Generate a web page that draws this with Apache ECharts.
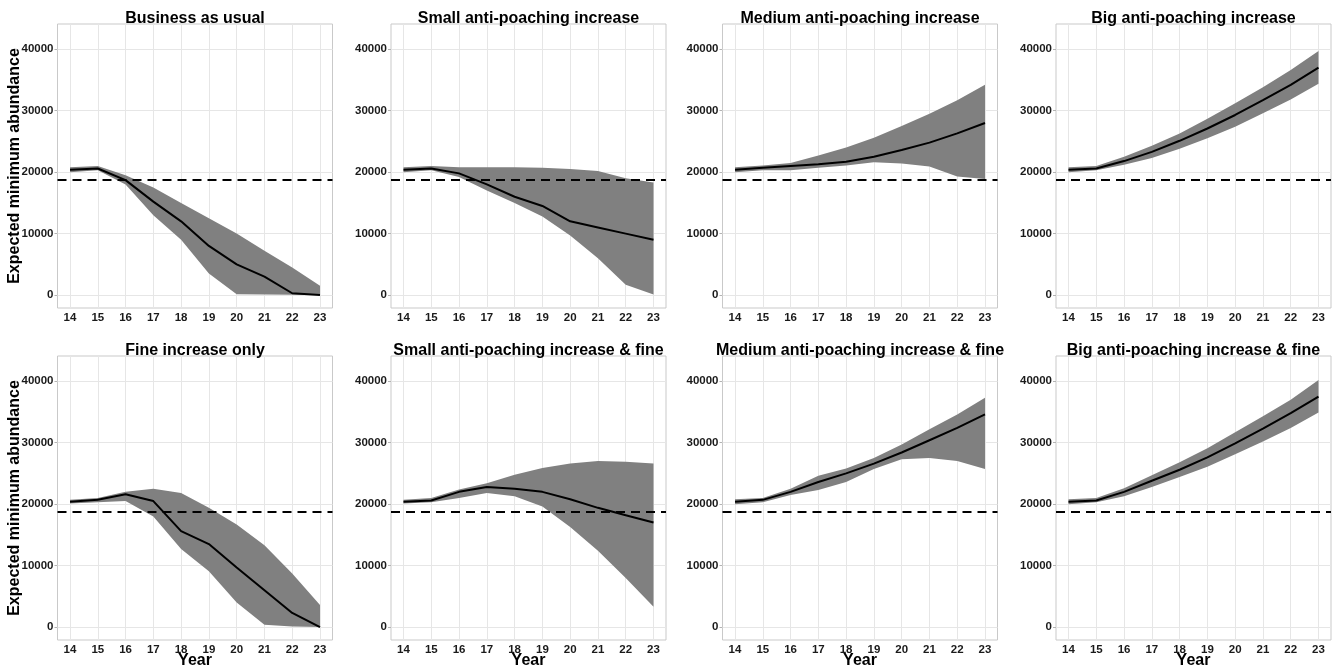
<!DOCTYPE html>
<html>
<head>
<meta charset="utf-8">
<script src="https://cdn.jsdelivr.net/npm/echarts@6/dist/echarts.min.js"></script>
<style>html,body{margin:0;padding:0;background:#fff;}#c{width:1334px;height:667px;}</style>
</head>
<body>
<div id="c"></div>
<script>
// ---- data ----
const years = [14, 15, 16, 17, 18, 19, 20, 21, 22, 23];
const yTicks = [0, 10000, 20000, 30000, 40000];
const threshold = 18800;
const titles = [
  "Business as usual", "Small anti-poaching increase", "Medium anti-poaching increase", "Big anti-poaching increase",
  "Fine increase only", "Small anti-poaching increase & fine", "Medium anti-poaching increase & fine", "Big anti-poaching increase & fine"
];

const bauMed = [20400, 20600, 18700, 15200, 12000, 8000, 5000, 3000, 300, 0];
const bauHi  = [20800, 21000, 19500, 17500, 15000, 12500, 10000, 7200, 4500, 1500];
const bauLo  = [20000, 20300, 18000, 13000, 9000, 3500, 150, 100, 50, 0];

const smallMed = [20400, 20600, 19800, 18000, 16000, 14500, 12000, 11000, 10000, 9000];
const smallHi  = [20800, 21000, 20800, 20800, 20800, 20700, 20500, 20200, 19000, 18300];
const smallLo  = [20000, 20300, 19200, 17000, 15000, 12800, 9700, 6000, 1700, 100];

const medMed = [20400, 20700, 21000, 21300, 21700, 22500, 23600, 24800, 26300, 28000];
const medHi  = [20800, 21100, 21500, 22700, 24000, 25600, 27500, 29500, 31700, 34200];
const medLo  = [20000, 20300, 20300, 20700, 21100, 21600, 21400, 20900, 19300, 18900];

const bigMed = [20400, 20600, 21800, 23300, 25100, 27100, 29300, 31700, 34200, 37000];
const bigHi  = [20800, 21000, 22500, 24300, 26300, 28700, 31200, 33800, 36600, 39700];
const bigLo  = [20000, 20300, 21200, 22300, 23800, 25500, 27400, 29600, 31800, 34400];

const fineMed = [20400, 20700, 21600, 20500, 15600, 13500, 9700, 6000, 2300, 0];
const fineHi  = [20700, 21000, 22000, 22500, 21800, 19400, 16700, 13300, 8700, 3600];
const fineLo  = [20100, 20300, 20500, 18000, 12700, 9100, 4000, 400, 100, 0];

const smallFineMed = [20400, 20600, 22000, 22800, 22500, 22000, 20800, 19400, 18200, 17000];
const smallFineHi  = [20700, 21000, 22400, 23400, 24800, 25900, 26600, 27000, 26900, 26600];
const smallFineLo  = [20100, 20300, 21000, 21800, 21300, 19600, 16300, 12400, 8000, 3300];

const medFineMed = [20400, 20700, 22000, 23600, 25000, 26600, 28400, 30400, 32400, 34600];
const medFineHi  = [20800, 21000, 22500, 24600, 25800, 27500, 29700, 32200, 34600, 37300];
const medFineLo  = [20000, 20300, 21500, 22300, 23600, 25700, 27300, 27500, 27000, 25700];

const bigFineMed = [20400, 20600, 22000, 23800, 25600, 27600, 29900, 32300, 34800, 37500];
const bigFineHi  = [20800, 21000, 22600, 24700, 26800, 29100, 31700, 34300, 37000, 40200];
const bigFineLo  = [20000, 20300, 21300, 22800, 24400, 26100, 28100, 30200, 32400, 34900];

// ---- build ----
const panels = [
  [bauMed, bauLo, bauHi], [smallMed, smallLo, smallHi], [medMed, medLo, medHi], [bigMed, bigLo, bigHi],
  [fineMed, fineLo, fineHi], [smallFineMed, smallFineLo, smallFineHi], [medFineMed, medFineLo, medFineHi], [bigFineMed, bigFineLo, bigFineHi]
];

const FONT = "'Liberation Sans', Arial, sans-serif";
const colLeft = [57.5, 391, 722.5, 1056];
const rowTop = [24, 356];
const W = 275, H = 284;

const grids = [], xAxes = [], yAxes = [], series = [], titleOpts = [];
panels.forEach((p, i) => {
  const r = Math.floor(i / 4), c = i % 4;
  grids.push({
    left: colLeft[c], top: rowTop[r], width: W, height: H,
    outerBoundsMode: 'none', containLabel: false,
    show: true, backgroundColor: '#ffffff', borderColor: '#c9c9c9', borderWidth: 1
  });
  titleOpts.push({
    text: titles[i], left: colLeft[c] + W / 2, top: rowTop[r] - 13, textAlign: 'center', padding: 0,
    textStyle: { fontFamily: FONT, fontWeight: 'bold', fontSize: 16, color: '#000' }
  });
  xAxes.push({
    type: 'value', gridIndex: i, min: 13.55, max: 23.45,
    axisLine: { show: false },
    splitLine: { show: false },
    axisTick: { show: true, customValues: years, length: 3, lineStyle: { color: '#b3b3b3' } },
    axisLabel: { customValues: years, margin: 4, fontFamily: FONT, fontWeight: 'bold', fontSize: 11.5, color: '#1a1a1a',
      formatter: v => String(v) },
    name: r === 1 ? 'Year' : '', nameLocation: 'middle', nameGap: 13, nameMoveOverlap: false,
    nameTextStyle: { fontFamily: FONT, fontWeight: 'bold', fontSize: 16, color: '#000' }
  });
  yAxes.push({
    type: 'value', gridIndex: i, min: -2100, max: 44100,
    axisLine: { show: false },
    splitLine: { show: false },
    axisTick: { show: true, customValues: yTicks, length: 3, lineStyle: { color: '#b3b3b3' } },
    axisLabel: { customValues: yTicks, margin: 4, fontFamily: FONT, fontWeight: 'bold', fontSize: 11.5, color: '#1a1a1a',
      formatter: v => String(v) },
    name: c === 0 ? 'Expected minimum abundance' : '', nameLocation: 'middle', nameGap: 34.5, nameRotate: 90, nameMoveOverlap: false,
    nameTextStyle: { fontFamily: FONT, fontWeight: 'bold', fontSize: 16, color: '#000' }
  });
  const [med, lo, hi] = p;
  // helper series carrying the panel grid lines
  series.push({
    type: 'line', xAxisIndex: i, yAxisIndex: i, symbol: 'none', silent: true, z: 1,
    data: years.map((x, k) => [x, med[k]]),
    lineStyle: { opacity: 0, width: 0 },
    markLine: {
      silent: true, symbol: 'none', z: 1, animation: false,
      label: { show: false },
      lineStyle: { color: '#e6e6e6', width: 1, type: 'solid' },
      emphasis: { disabled: true },
      data: years.map(x => ({ xAxis: x })).concat(yTicks.map(y => ({ yAxis: y })))
    }
  });
  // ribbon
  series.push({
    type: 'custom', xAxisIndex: i, yAxisIndex: i, silent: true, z: 2,
    data: years.map((x, k) => [x, lo[k], hi[k]]),
    encode: { x: 0, y: [1, 2] },
    renderItem: (params, api) => {
      if (params.dataIndex !== 0) return null;
      const pts = [];
      for (let k = 0; k < years.length; k++) pts.push(api.coord([years[k], hi[k]]));
      for (let k = years.length - 1; k >= 0; k--) pts.push(api.coord([years[k], lo[k]]));
      return { type: 'polygon', shape: { points: pts }, style: { fill: '#808080' } };
    }
  });
  // median + threshold
  series.push({
    type: 'line', xAxisIndex: i, yAxisIndex: i, symbol: 'none', silent: true, z: 3,
    data: years.map((x, k) => [x, med[k]]),
    lineStyle: { color: '#000', width: 2 },
    markLine: {
      silent: true, symbol: 'none', z: 6, animation: false,
      label: { show: false },
      lineStyle: { color: '#000', width: 2, type: [9, 6] },
      emphasis: { disabled: true },
      data: [{ yAxis: threshold }]
    }
  });
});

const chart = echarts.init(document.getElementById('c'), null, { renderer: 'canvas' });
chart.setOption({
  animation: false,
  backgroundColor: '#ffffff',
  title: titleOpts,
  grid: grids,
  xAxis: xAxes,
  yAxis: yAxes,
  series: series
});
</script>
</body>
</html>
